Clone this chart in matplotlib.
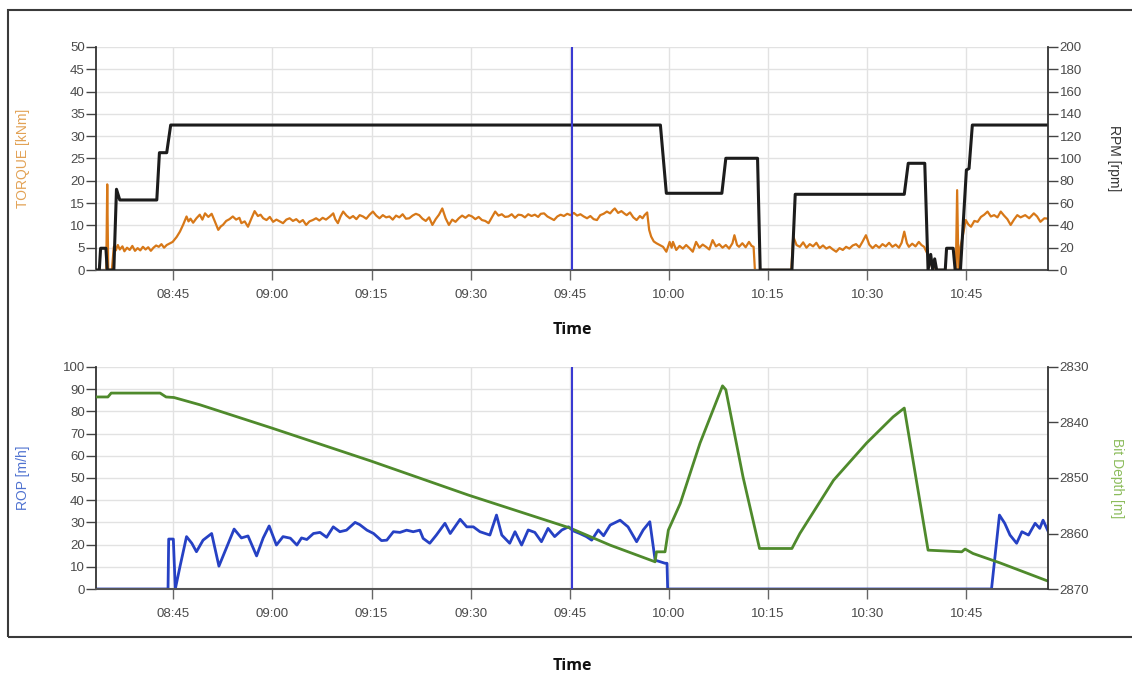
import numpy as np
import matplotlib
matplotlib.use("Agg")
import matplotlib.pyplot as plt
import matplotlib.dates as mdates
from matplotlib.patches import Rectangle
from matplotlib import font_manager

# all times are minutes after 08:00
torque_t = [
    33.3, 34.85, 35.0, 35.15, 35.7, 36.0, 36.3, 36.6, 36.9, 37.3,
    37.6, 38.0, 38.4, 38.8, 39.2, 39.6, 40.0, 40.4, 40.8, 41.2,
    41.6, 42.0, 42.4, 42.8, 43.2, 43.6, 44.0, 44.5, 44.9, 45.5,
    46.0, 46.5, 47.0, 47.3, 47.6, 48.0, 48.5, 49.0, 49.4, 49.8,
    50.3, 50.8, 51.2, 51.8, 52.2, 52.5, 53.0, 53.5, 54.0, 54.5,
    55.0, 55.3, 55.8, 56.3, 56.8, 57.3, 57.8, 58.2, 58.6, 59.1,
    59.6, 60.1, 60.6, 61.1, 61.6, 62.1, 62.6, 63.1, 63.6, 64.1,
    64.6, 65.1, 65.6, 66.1, 66.6, 67.1, 67.6, 68.1, 68.7, 69.2,
    69.5, 69.9, 70.3, 70.7, 71.2, 71.7, 72.2, 72.7, 73.2, 73.7,
    74.2, 74.7, 75.2, 75.7, 76.2, 76.7, 77.2, 77.7, 78.2, 78.7,
    79.2, 79.7, 80.2, 80.7, 81.2, 81.7, 82.2, 82.7, 83.2, 83.7,
    84.2, 84.7, 85.2, 85.7, 86.2, 86.7, 87.2, 87.7, 88.2, 88.7,
    89.2, 89.7, 90.2, 90.7, 91.2, 91.7, 92.2, 92.7, 93.2, 93.7,
    94.2, 94.7, 95.2, 95.7, 96.2, 96.7, 97.2, 97.7, 98.2, 98.7,
    99.2, 99.7, 100.2, 100.6, 101.1, 101.6, 102.1, 102.6, 103.1, 103.6,
    104.1, 104.6, 105.1, 105.6, 106.1, 106.6, 107.1, 107.6, 108.1, 108.6,
    109.1, 109.6, 110.1, 110.6, 111.1, 111.5, 111.8, 112.3, 112.8, 113.3,
    113.6, 114.1, 114.6, 115.1, 115.6, 116.0, 116.3, 116.7, 117.0, 117.3,
    117.7, 118.1, 118.6, 119.1, 119.6, 120.1, 120.4, 120.6, 121.1, 121.6,
    122.1, 122.6, 123.1, 123.6, 124.1, 124.6, 125.1, 125.6, 126.1, 126.6,
    127.1, 127.6, 128.1, 128.6, 129.1, 129.6, 129.9, 130.3, 130.6, 131.1,
    131.6, 132.1, 132.5, 132.8, 133.0, 138.5, 138.8, 139.3, 139.8, 140.3,
    140.8, 141.3, 141.8, 142.3, 142.8, 143.3, 143.8, 144.3, 144.8, 145.3,
    145.8, 146.3, 146.8, 147.3, 147.8, 148.3, 148.8, 149.3, 149.8, 150.3,
    150.8, 151.3, 151.8, 152.3, 152.8, 153.3, 153.8, 154.3, 154.8, 155.2,
    155.6, 156.0, 156.3, 156.8, 157.3, 157.8, 158.2, 158.6, 159.3, 159.8,
    160.3, 163.4, 163.6, 163.8, 164.1, 164.5, 164.9, 165.3, 165.7, 166.2,
    166.7, 167.2, 167.7, 168.2, 168.7, 169.2, 169.7, 170.2, 170.7, 171.2,
    171.7, 172.2, 172.7, 173.2, 173.9, 174.5, 175.2, 175.7, 176.2, 176.8,
    177.4,
]
torque = [
    0, 0, 19.2, 0, 0, 5.2, 4.4, 5.6, 4.6, 5.3,
    4.2, 5.0, 4.5, 5.4, 4.3, 4.9, 4.4, 5.2, 4.6, 5.1,
    4.3, 5.0, 5.5, 5.2, 5.8, 5.0, 5.6, 6.0, 6.3, 7.4,
    8.6, 10.2, 12.0, 10.9, 11.5, 10.6, 11.6, 12.4, 11.3, 12.7,
    11.9, 12.6, 11.2, 9.0, 9.8, 10.1, 11.0, 11.4, 12.0, 11.3,
    11.7, 10.5, 10.9, 9.7, 11.5, 13.2, 12.1, 12.4, 11.6, 11.2,
    11.9, 10.8, 11.3, 10.9, 10.5, 11.3, 11.6, 11.0, 11.4, 10.7,
    11.2, 10.1, 10.9, 11.2, 11.6, 11.1, 11.7, 11.3, 12.0, 12.7,
    11.4, 10.5, 12.0, 13.1, 12.2, 11.6, 12.1, 11.4, 12.3, 12.0,
    11.5, 12.4, 13.1, 12.2, 11.6, 12.3, 11.8, 12.0, 11.3, 12.2,
    11.8, 12.5, 11.5, 11.6, 12.2, 12.6, 12.3, 11.5, 11.0, 11.8,
    10.1, 11.4, 12.4, 13.8, 11.6, 10.1, 11.3, 10.8, 11.6, 12.2,
    11.7, 12.3, 12.0, 11.4, 11.9, 11.2, 11.0, 10.5, 11.8, 13.1,
    12.2, 12.5, 11.9, 12.0, 12.5, 11.7, 12.4, 12.3, 11.8, 12.5,
    12.1, 12.4, 11.9, 12.6, 12.7, 12.0, 11.6, 11.2, 12.0, 12.4,
    12.1, 12.6, 12.3, 12.8, 12.2, 12.5, 12.0, 11.6, 12.1, 11.4,
    11.2, 12.3, 12.6, 13.1, 12.7, 13.4, 13.8, 12.8, 13.2, 12.6,
    12.3, 12.9, 11.8, 11.2, 12.1, 11.6, 12.3, 12.9, 9.0, 7.5,
    6.4, 6.0, 5.6, 5.2, 4.1, 6.3, 5.0, 6.3, 4.5, 5.4,
    4.8, 5.6, 4.9, 4.1, 6.3, 5.0, 5.7, 5.2, 4.6, 6.7,
    5.3, 5.8, 5.0, 5.6, 4.8, 6.0, 7.8, 5.6, 5.2, 6.0,
    5.1, 6.3, 5.4, 5.2, 0, 0, 7.5, 5.6, 5.2, 6.2,
    5.0, 5.8, 5.3, 6.1, 4.9, 5.5, 4.8, 5.2, 4.6, 4.1,
    4.9, 4.5, 5.2, 4.8, 5.5, 5.8, 5.1, 6.4, 7.8, 5.7,
    4.9, 5.6, 5.0, 5.8, 5.3, 6.1, 5.2, 5.7, 5.0, 6.1,
    8.6, 6.0, 5.2, 5.9, 5.3, 6.3, 5.6, 5.2, 3.0, 0.7,
    0, 0, 17.9, 0, 5.2, 8.0, 11.2, 10.2, 9.7, 11.0,
    10.8, 11.9, 12.4, 13.1, 12.0, 12.3, 11.8, 13.1, 12.2, 11.4,
    10.1, 11.3, 12.3, 11.8, 12.3, 11.6, 12.7, 12.0, 10.8, 11.6,
    11.5,
]

rpm_t = [33.3, 33.8, 34.0, 34.8, 35.0, 36.0, 36.4, 36.9, 42.5, 42.9,
         44.0, 44.6, 118.7, 119.6, 128.0, 128.6, 133.4, 133.8, 138.6, 139.1,
         155.6, 156.2, 158.7, 159.2, 159.6, 159.9, 160.2, 160.5, 161.8, 162.0,
         163.0, 163.3, 164.1, 165.0, 165.4, 165.9, 177.4]
rpm = [0, 0, 19.5, 19.5, 0, 0, 72.4, 62.8, 62.8, 105.2,
       105.2, 130, 130, 68.8, 68.8, 100.2, 100.2, 0, 0, 67.9,
       67.9, 95.7, 95.7, 0, 14, 0, 10, 0, 0, 19.5,
       19.5, 0, 0, 89.7, 91, 130, 130]

rop_t = [33.3, 44.2, 44.3, 45.0, 45.3, 46.0, 47.0, 47.8, 48.5, 49.5,
         50.8, 51.9, 53.1, 54.2, 55.3, 56.3, 57.6, 58.6, 59.5, 60.6,
         61.6, 62.7, 63.7, 64.4, 65.2, 66.2, 67.2, 68.2, 69.2, 70.2,
         71.2, 72.5, 73.2, 74.3, 75.3, 76.5, 77.3, 78.3, 79.3, 80.3,
         81.3, 82.3, 82.8, 83.8, 84.8, 86.1, 86.9, 88.4, 89.4, 90.4,
         91.4, 92.9, 93.9, 94.7, 95.9, 96.7, 97.7, 98.7, 99.7, 100.7,
         101.7, 102.7, 103.8, 104.8, 105.5, 106.5, 107.5, 108.3, 109.3, 110.1,
         111.1, 112.6, 113.8, 115.1, 116.1, 117.1, 117.9, 119.4, 119.7, 119.8,
         168.8, 170.0, 170.8, 171.6, 172.6, 173.4, 174.4, 175.4, 176.1, 176.6,
         177.4]
rop = [0, 0, 22.5, 22.5, 0, 10, 23.6, 20.6, 16.8, 22,
       25, 10.3, 19, 27, 23, 23.9, 14.9, 23, 28.4, 19.8,
       23.6, 22.9, 19.8, 23, 22.3, 25, 25.5, 23.3, 28, 25.8,
       26.5, 30, 29, 26.5, 25, 21.8, 22, 25.8, 25.5, 26.5,
       25.8, 26.5, 22.8, 20.6, 24.3, 29.6, 25, 31.4, 28, 28,
       25.8, 24.3, 33.3, 24.3, 20.6, 25.8, 19.8, 26.6, 25.5, 21.3,
       27.3, 23.6, 26.6, 28, 26.2, 25, 23.6, 22, 26.6, 24,
       28.8, 31, 28, 21.3, 26.6, 30.3, 13, 11.6, 11.6, 0,
       0, 33.3, 29.6, 24.3, 20.6, 25.8, 24.3, 29.6, 27.3, 31,
       25.8]

depth_t = [33.3, 35.1, 35.6, 43.0, 43.9, 45.1, 49.0, 59.9, 74.8, 89.7,
           105.0, 111.1, 117.9, 118.1, 119.4, 119.9, 121.7, 124.7, 128.1, 128.6,
           131.2, 133.7, 138.6, 139.8, 144.9, 149.9, 153.9, 155.6, 159.2, 164.3,
           164.8, 166.0, 170.1, 177.4]
depth = [2835.4, 2835.4, 2834.7, 2834.7, 2835.4, 2835.5, 2836.8, 2841.0, 2846.9, 2853.1,
         2859.0, 2862.1, 2865.1, 2863.3, 2863.3, 2859.4, 2854.6, 2843.7, 2833.4, 2834.1,
         2849.8, 2862.7, 2862.7, 2860.0, 2850.4, 2843.7, 2839.0, 2837.4, 2863.0, 2863.3,
         2862.8, 2863.6, 2865.3, 2868.6]

cursor_t = 105.4
x_start, x_end = 33.3, 177.4


def clock(minutes):
    secs = np.round(np.asarray(minutes, dtype=float) * 60).astype(np.int64)
    return np.datetime64("2024-01-01T08:00:00") + secs.astype("timedelta64[s]")


names = {f.name for f in font_manager.fontManager.ttflist}
tick_font = "Liberation Sans Narrow" if "Liberation Sans Narrow" in names else "Liberation Sans"
plt.rcParams["font.family"] = [tick_font, "DejaVu Sans"]

fig = plt.figure(figsize=(11.32, 6.73), dpi=100)
# frame around both panels; its right edge runs off the canvas
fig.patches.append(Rectangle((8 / 1132, 1 - 637 / 673), 1140 / 1132, 627 / 673,
                             transform=fig.transFigure, fill=False,
                             edgecolor="#3a3a3a", linewidth=1.5))

ax_tq = fig.add_axes([0.0848, 0.5988, 0.8413, 0.3314])
ax_rop = fig.add_axes([0.0848, 0.1248, 0.8413, 0.3299])
ax_rpm = ax_tq.twinx()
ax_dep = ax_rop.twinx()

# top panel: torque and rotary speed
ax_tq.plot(clock(torque_t), torque, color="#d77818", lw=1.6)
ax_rpm.plot(clock(rpm_t), rpm, color="#1c1c1c", lw=2.2)
ax_tq.set_ylim(0, 50)
ax_tq.set_yticks(np.arange(0, 51, 5))
ax_rpm.set_ylim(0, 200)
ax_rpm.set_yticks(np.arange(0, 201, 20))

# bottom panel: rate of penetration and bit depth
ax_rop.plot(clock(rop_t), rop, color="#2641c4", lw=2)
ax_dep.plot(clock(depth_t), depth, color="#4f8a2c", lw=2)
ax_rop.set_ylim(0, 100)
ax_rop.set_yticks(np.arange(0, 101, 10))
ax_dep.set_ylim(2870, 2830)
ax_dep.set_yticks(np.arange(2830, 2871, 10))

for ax, twin in ((ax_tq, ax_rpm), (ax_rop, ax_dep)):
    ax.set_xlim(clock(x_start), clock(x_end))
    ax.xaxis.set_major_locator(mdates.MinuteLocator(byminute=[0, 15, 30, 45]))
    ax.xaxis.set_major_formatter(mdates.DateFormatter("%H:%M"))
    ax.grid(True, color="#e2e2e2", lw=1)
    ax.set_axisbelow(True)
    for a in (ax, twin):
        a.spines["top"].set_visible(False)
        a.tick_params(axis="y", length=7, width=1, color="#444444",
                      labelsize=9.5, labelcolor="#4a4a4a", pad=1)
    ax.spines["right"].set_visible(False)
    twin.spines["left"].set_visible(False)
    twin.spines["bottom"].set_visible(False)
    ax.spines["left"].set_color("#333333")
    ax.spines["left"].set_linewidth(1.3)
    ax.spines["bottom"].set_color("#555555")
    ax.spines["bottom"].set_linewidth(1.5)
    twin.spines["right"].set_color("#333333")
    twin.spines["right"].set_linewidth(1.3)
    ax.tick_params(axis="x", length=7, width=1, color="#666666",
                   labelsize=9.5, labelcolor="#4a4a4a", pad=7)
    twin.axvline(clock(cursor_t), color="#3a3ad2", lw=1.5)

ax_tq.set_ylabel("TORQUE [kNm]", color="#e2a255", fontsize=10,
                 family="Liberation Sans", va="center")
ax_tq.yaxis.set_label_coords(-0.077, 0.5)
ax_rpm.set_ylabel("RPM [rpm]", color="#333333", fontsize=10,
                  family="Liberation Sans", rotation=270, va="center")
ax_rpm.yaxis.set_label_coords(1.069, 0.5)
ax_rop.set_ylabel("ROP [m/h]", color="#4f72d0", fontsize=10,
                  family="Liberation Sans", va="center")
ax_rop.yaxis.set_label_coords(-0.077, 0.5)
ax_dep.set_ylabel("Bit Depth [m]", color="#8cbc5c", fontsize=10,
                  family="Liberation Sans", rotation=270, va="center")
ax_dep.yaxis.set_label_coords(1.072, 0.5)

ax_tq.set_xlabel("Time", fontsize=11.5, fontweight="bold", family="Open Sans",
                 color="#111111", labelpad=15)
ax_rop.set_xlabel("Time", fontsize=11.5, fontweight="bold", family="Open Sans",
                  color="#111111", labelpad=27)

fig.savefig("out.png", dpi=100, facecolor="white")
